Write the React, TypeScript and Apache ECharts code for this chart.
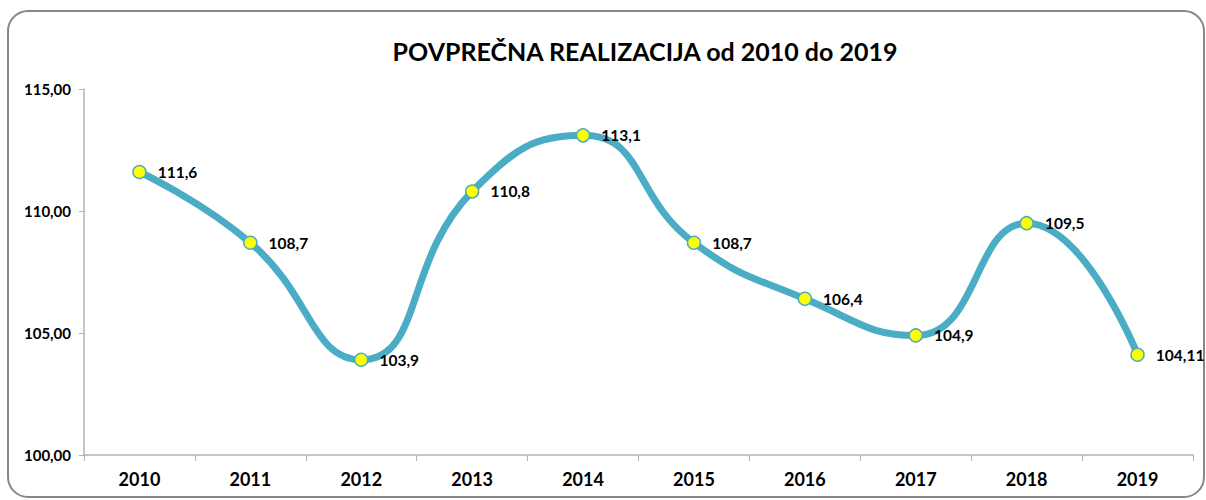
import React, { useEffect, useRef } from "react";
import * as echarts from "echarts";

const years = ["2010", "2011", "2012", "2013", "2014", "2015", "2016", "2017", "2018", "2019"];
const values = [111.6, 108.7, 103.9, 110.8, 113.1, 108.7, 106.4, 104.9, 109.5, 104.11];
const valueLabels = ["111,6", "108,7", "103,9", "110,8", "113,1", "108,7", "106,4", "104,9", "109,5", "104,11"];
const titleText = "POVPREČNA REALIZACIJA od 2010 do 2019";

export default function App() {
  const ref = useRef<HTMLDivElement>(null);
  useEffect(() => {
    if (!ref.current) return;
    const chart = echarts.init(ref.current, null, { renderer: "svg" });
    const font = "Lato, 'Open Sans', sans-serif";
    chart.setOption({
      animation: false,
      backgroundColor: "#ffffff",
      textStyle: { fontFamily: font },
      title: {
        text: titleText,
        left: 640,
        top: 33,
        textAlign: "center",
        textStyle: { fontFamily: font, fontSize: 25, fontWeight: "bold", color: "#000" },
      },
      graphic: [
        {
          type: "rect",
          shape: { x: 8, y: 11, width: 1196, height: 486, r: 20 },
          style: { fill: "none", stroke: "#878787", lineWidth: 2 },
          silent: true,
          z: -1,
        },
      ],
      grid: { left: 84, right: 13, top: 89, bottom: 45 },
      xAxis: {
        type: "category",
        data: years,
        boundaryGap: true,
        axisLine: { lineStyle: { color: "#b3b3b3", width: 1.5 } },
        axisTick: { show: true, length: 6, lineStyle: { color: "#b3b3b3" } },
        axisLabel: { fontFamily: font, fontSize: 18, fontWeight: "bold", color: "#000", margin: 15 },
      },
      yAxis: {
        type: "value",
        min: 100,
        max: 115,
        interval: 5,
        axisLine: { show: true, lineStyle: { color: "#b3b3b3", width: 1.5 } },
        axisTick: { show: true, length: 5, lineStyle: { color: "#b3b3b3" } },
        splitLine: { show: false },
        axisLabel: {
          fontFamily: font,
          fontSize: 15,
          fontWeight: "bold",
          color: "#000",
          margin: 13,
          formatter: (v: number) => v.toFixed(2).replace(".", ","),
        },
      },
      series: [
        {
          type: "line",
          data: values,
          smooth: 0.5,
          lineStyle: { color: "#4BACC6", width: 7 },
          symbol: "circle",
          symbolSize: 13,
          itemStyle: { color: "#FFFF00", borderColor: "#4BACC6", borderWidth: 1.5 },
          label: {
            show: true,
            position: "right",
            distance: 11,
            fontFamily: font,
            fontSize: 15.5,
            fontWeight: "bold",
            color: "#000",
            formatter: (p: any) => valueLabels[p.dataIndex],
          },
        },
      ],
    });
    return () => chart.dispose();
  }, []);
  return (
    <div
      ref={ref}
      style={{ position: "fixed", left: 0, top: 0, width: 1206, height: 500 }}
    />
  );
}
